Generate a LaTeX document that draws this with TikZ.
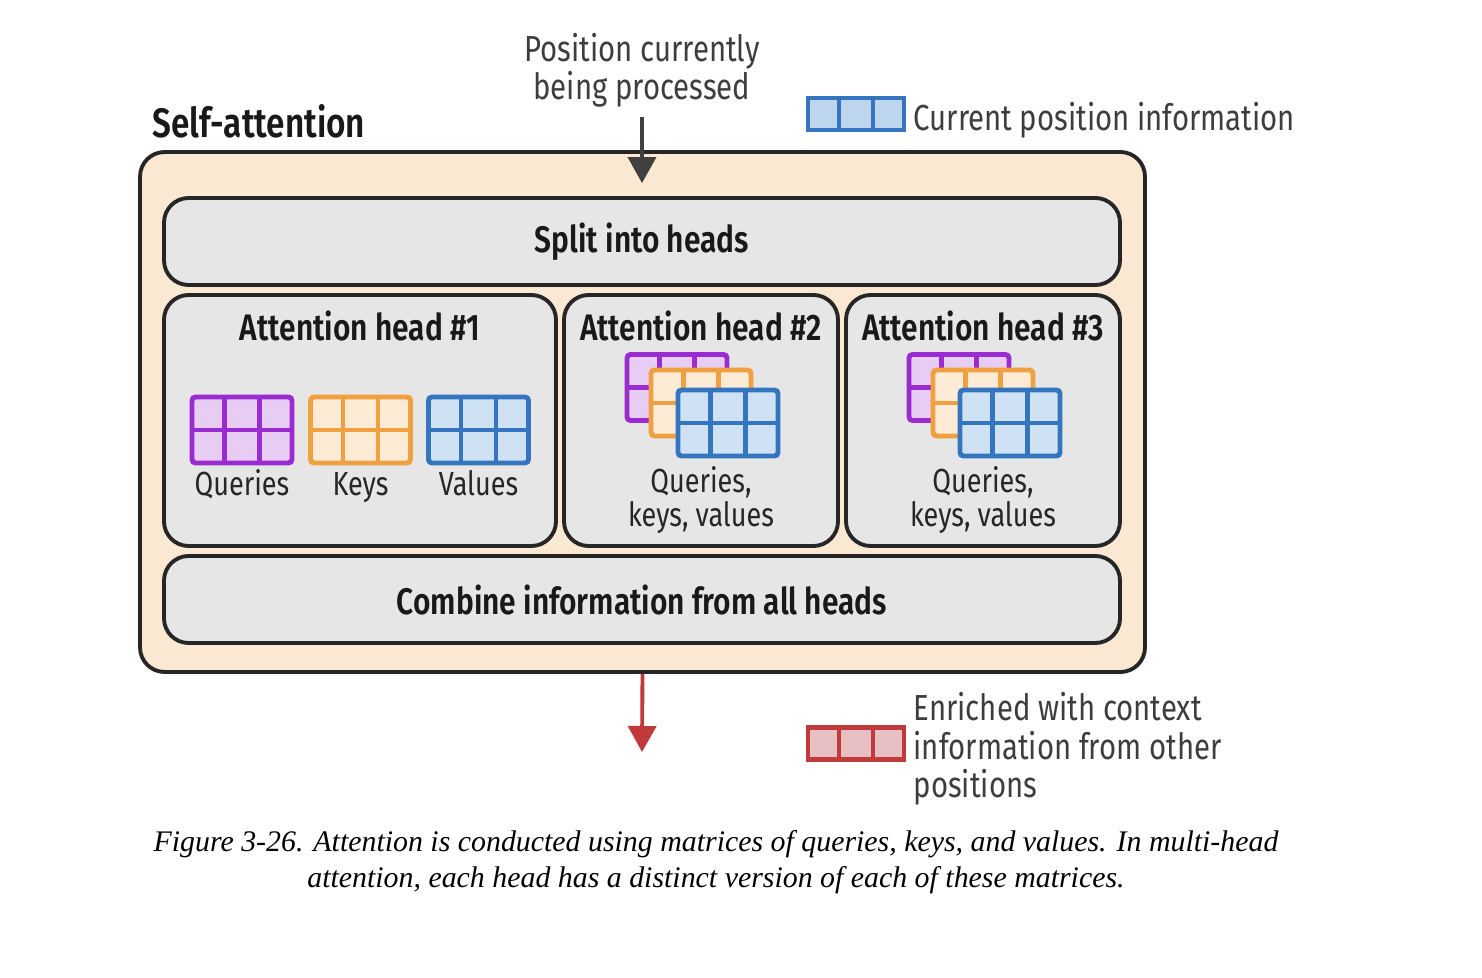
\documentclass[tikz,border=0pt]{standalone}
\usepackage{fontspec}
\setmainfont[FakeStretch=0.81, BoldFont={Fira Sans SemiBold}, BoldFeatures={FakeStretch=0.81}]{Fira Sans}
\newfontfamily\captionfont{Liberation Serif}
\usetikzlibrary{arrows.meta,calc,positioning}

\definecolor{peach}{HTML}{FBE8D3}
\definecolor{boxgray}{HTML}{E6E6E6}
\definecolor{qpurple}{HTML}{9A2BD0}
\definecolor{qfill}{HTML}{E7CCF3}
\definecolor{korange}{HTML}{F0A040}
\definecolor{kfill}{HTML}{FDEBD6}
\definecolor{vblue}{HTML}{3575C0}
\definecolor{vfill}{HTML}{CFE2F3}
\definecolor{curfill}{HTML}{BDD6EE}
\definecolor{outred}{HTML}{C0393B}
\definecolor{outfill}{HTML}{E8BFC3}
\definecolor{notegray}{HTML}{3D3D3D}

\tikzset{
    outer-box/.style = {draw=black!85, fill=peach, line width=1.1pt, rounded corners=7pt, inner sep=0pt},
    stage-box/.style = {draw=black!85, fill=boxgray, line width=1.1pt, rounded corners=7pt, inner sep=0pt, font=\fontsize{10.5}{11}\selectfont\bfseries, text=black!90},
    head-title/.style = {font=\fontsize{10.5}{11}\selectfont\bfseries, text=black!90},
    grid-box/.style = {line width=1.4pt, rounded corners=1pt, minimum width=10mm, minimum height=6.6mm, inner sep=0pt},
    grid-label/.style = {font=\fontsize{9.5}{9.5}\selectfont, text=black!85, align=center, inner sep=0pt},
    bar-box/.style = {line width=1.2pt, minimum width=9.6mm, minimum height=3.2mm, inner sep=0pt},
    note-text/.style = {font=\fontsize{10.3}{10.7}\selectfont, text=notegray, inner sep=0pt},
    in-arrow/.style = {draw=black!75, line width=1.1pt, -{Triangle[width=2.8mm,length=2.6mm]}},
    out-arrow/.style = {draw=outred, line width=1.1pt, -{Triangle[width=2.8mm,length=2.6mm]}},
}

% 3x2 grid of one matrix
\newcommand{\qkvgrid}[4]{%
    \node[grid-box, draw=#3, fill=#4] (#1) at (#2) {};
    \draw[#3, line width=1.4pt] (#1.west) -- (#1.east)
        ($(#1.north west)!1/3!(#1.north east)$) -- ($(#1.south west)!1/3!(#1.south east)$)
        ($(#1.north west)!2/3!(#1.north east)$) -- ($(#1.south west)!2/3!(#1.south east)$);
}
% three cells of one token
\newcommand{\tokenbar}[4]{%
    \node[bar-box, draw=#3, fill=#4] (#1) at (#2) {};
    \draw[#3, line width=1.2pt]
        ($(#1.north west)!1/3!(#1.north east)$) -- ($(#1.south west)!1/3!(#1.south east)$)
        ($(#1.north west)!2/3!(#1.north east)$) -- ($(#1.south west)!2/3!(#1.south east)$);
}

\begin{document}
\begin{tikzpicture}[x=0.1mm, y=-0.1mm]
\useasboundingbox (0,0) rectangle (1482,978);

% outer block
\node[outer-box, minimum width=100.5mm, minimum height=52mm] (selfatt) at (642.5,412) {};
\node[anchor=west, inner sep=0pt, font=\fontsize{11.7}{13}\selectfont\bfseries, text=black!90] (satitle) at (152,121) {Self-attention};

\node[stage-box, minimum width=95.6mm, minimum height=8.7mm] (split) at (642,241.5) {Split into heads};
\node[stage-box, minimum width=39.2mm, minimum height=25.1mm] (head1) at (360,420.5) {};
\node[stage-box, minimum width=27.4mm, minimum height=25.1mm] (head2) at (701,420.5) {};
\node[stage-box, minimum width=27.4mm, minimum height=25.1mm] (head3) at (983,420.5) {};
\node[stage-box, minimum width=95.6mm, minimum height=8.7mm] (combine) at (642,599.5) {Combine information from all heads};

\node[head-title] (title1) at (360,326) {Attention head \#1};
\node[head-title] (title2) at (701,326) {Attention head \#2};
\node[head-title] (title3) at (983,326) {Attention head \#3};

% head 1
\qkvgrid{q1}{242,430}{qpurple}{qfill}
\qkvgrid{k1}{360.5,430}{korange}{kfill}
\qkvgrid{v1}{478.5,430}{vblue}{vfill}
\node[grid-label, anchor=base] (q1lab) at (242,495) {Queries};
\node[grid-label, anchor=base] (k1lab) at (360.5,495) {Keys};
\node[grid-label, anchor=base] (v1lab) at (478.5,495) {Values};

% heads 2 and 3
\foreach \h/\dx in {2/0, 3/282} {
    \qkvgrid{q\h}{677+\dx,387.5}{qpurple}{qfill}
    \qkvgrid{k\h}{701+\dx,403}{korange}{kfill}
    \qkvgrid{v\h}{728+\dx,423}{vblue}{vfill}
    \node[grid-label] (qkv\h lab) at (701+\dx,500) {Queries,\\keys, values};
}

% input and output
\node[note-text, align=center] (pos) at (642,70) {Position currently\\being processed};
\coordinate (outend) at (642,752);
\draw[in-arrow, shorten <=1mm, shorten >=1.3mm] (pos.south) -- (split.north);
\draw[out-arrow] (selfatt.south) -- (outend);

% legend
\tokenbar{curbar}{856,114}{vblue}{curfill}
\node[note-text, anchor=west] (curtext) at (913,120) {Current position information};
\tokenbar{outbar}{856,743.5}{outred}{outfill}
\node[note-text, anchor=west, align=left, font=\fontsize{10.3}{11}\selectfont] (outtext) at (913,749) {Enriched with context\\information from other\\positions};

% caption
\node[font=\captionfont\itshape\fontsize{8.5}{10.3}\selectfont, align=center, inner sep=0pt] (caption) at (716,862) {Figure 3-26. Attention is conducted using matrices of queries, keys, and values. In multi-head\\attention, each head has a distinct version of each of these matrices.};
\end{tikzpicture}
\end{document}
